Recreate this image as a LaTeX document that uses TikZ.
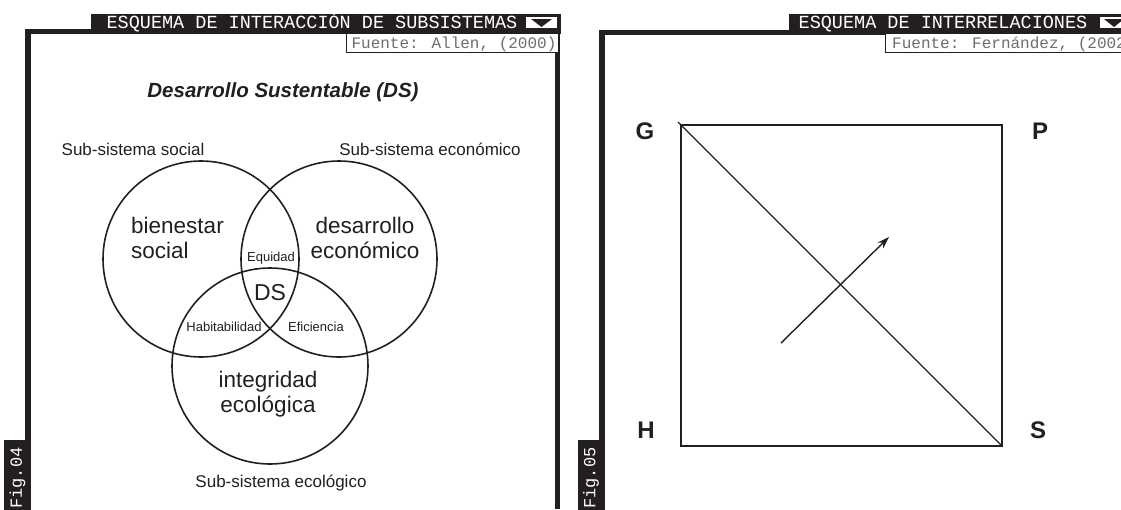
\documentclass[tikz,border=0pt]{standalone}
\usepackage{fontspec}
\setmainfont{Liberation Sans}
\newfontfamily\monof{Liberation Mono}
\usetikzlibrary{arrows.meta}
\definecolor{hdr}{HTML}{231F20}
\definecolor{srcgray}{HTML}{6D6E71}
\definecolor{txt}{HTML}{231F20}
\begin{document}
\begin{tikzpicture}[x=1pt,y=-1pt,
  hdrtext/.style={text=white, font=\monof\fontsize{18.5}{20}\selectfont, inner sep=0pt, anchor=base},
  srcbox/.style={draw=hdr, line width=0.8pt, fill=white},
  srctext/.style={text=srcgray, font=\monof\fontsize{16}{18}\selectfont, inner sep=0pt, anchor=base},
  figbox/.style={fill=hdr, text=white, font=\monof\fontsize{17}{18}\selectfont, rotate=90, minimum width=76pt, minimum height=27pt, inner sep=0pt},
  venn/.style={circle, draw=txt, line width=1.6pt, minimum size=196pt, inner sep=0pt},
  sub/.style={text=txt, font=\fontsize{17}{19}\selectfont, inner sep=0pt},
  big/.style={text=txt, font=\fontsize{22.5}{25}\selectfont, inner sep=0pt, align=left},
  small/.style={text=txt, font=\fontsize{13}{15}\selectfont, inner sep=0pt},
  corner/.style={text=txt, font=\bfseries\fontsize{24}{26}\selectfont, inner sep=0pt}
]
\useasboundingbox (0,0) rectangle (1121,509);
\clip (0,0) rectangle (1121,509);
\fill[white] (0,0) rectangle (1121,509);

% ---------- left panel frame ----------
\fill[hdr] (91,14) rectangle (561,31);
\fill[hdr] (25,29) rectangle (561,34);
\fill[hdr] (25,29) rectangle (31,442);
\fill[hdr] (555,29) rectangle (560,509);
\fill[white] (526,17) rectangle (557,28);
\fill[hdr] (531,19) -- (552,19) -- (541.5,27) -- cycle;
\node[hdrtext] (h1) at (312,28) {ESQUEMA DE INTERACCIÓN DE SUBSISTEMAS};
\node[srcbox, minimum width=212pt, minimum height=19pt, inner sep=0pt, anchor=west] (s1box) at (346,43) {};
\node[srctext] (s1) at (454,48) {Fuente: Allen, (2000)};
\node[figbox] (f4) at (17.5,478) {Fig.04};

% ---------- right panel frame ----------
\fill[hdr] (789,14) rectangle (1125,31);
\fill[hdr] (599,30) rectangle (1125,35);
\fill[hdr] (599,30) rectangle (605,442);
\fill[white] (1100,17) rectangle (1125,28);
\fill[hdr] (1104,19) -- (1124,19) -- (1114,27) -- cycle;
\node[hdrtext] (h2) at (943,28) {ESQUEMA DE INTERRELACIONES};
\node[srcbox, minimum width=260pt, minimum height=19pt, inner sep=0pt, anchor=west] (s2box) at (885,43) {};
\node[srctext, anchor=base west] (s2) at (892,48) {Fuente: Fernández, (2002};
\node[figbox] (f5) at (591,478) {Fig.05};

% ---------- Venn diagram ----------
\node[text=txt, font=\bfseries\itshape\fontsize{20.5}{22}\selectfont, inner sep=0pt] (title) at (283,92) {Desarrollo Sustentable (DS)};
\node[sub] (ssoc) at (133,149) {Sub-sistema social};
\node[sub] (seco) at (430,149) {Sub-sistema económico};
\node[sub] (secol) at (281,483) {Sub-sistema ecológico};

\node[venn] (csoc) at (201,259) {};
\node[venn] (ceco) at (339,259) {};
\node[venn] (cecol) at (270,366) {};

\node[big, anchor=west] (bien) at (131,238) {bienestar\\social};
\node[big, align=center] (desa) at (365,238) {desarrollo\\económico};
\node[big, align=center] (integ) at (268,394) {integridad\\ecológica};
\node[text=txt, font=\fontsize{23}{25}\selectfont, inner sep=0pt] (ds) at (270,293) {DS};
\node[small] (equi) at (271,258) {Equidad};
\node[small] (habi) at (224,327) {Habitabilidad};
\node[small] (efic) at (316,327) {Eficiencia};

% ---------- Square diagram ----------
\node[draw=txt, line width=1.4pt, minimum size=321pt, inner sep=0pt] (sq) at (841.5,285.5) {};
\coordinate (dg0) at (678,122);
\draw[txt, line width=1.4pt] (dg0) -- (sq.south east);
\coordinate (a0) at (781,343);
\coordinate (a1) at (889,237);
\draw[txt, line width=1.4pt, -{Stealth[length=12pt,width=8pt]}] (a0) -- (a1);
\node[corner] (G) at (645,131) {G};
\node[corner] (P) at (1040,131) {P};
\node[corner] (H) at (646,430) {H};
\node[corner] (S) at (1038,430) {S};
\end{tikzpicture}
\end{document}
